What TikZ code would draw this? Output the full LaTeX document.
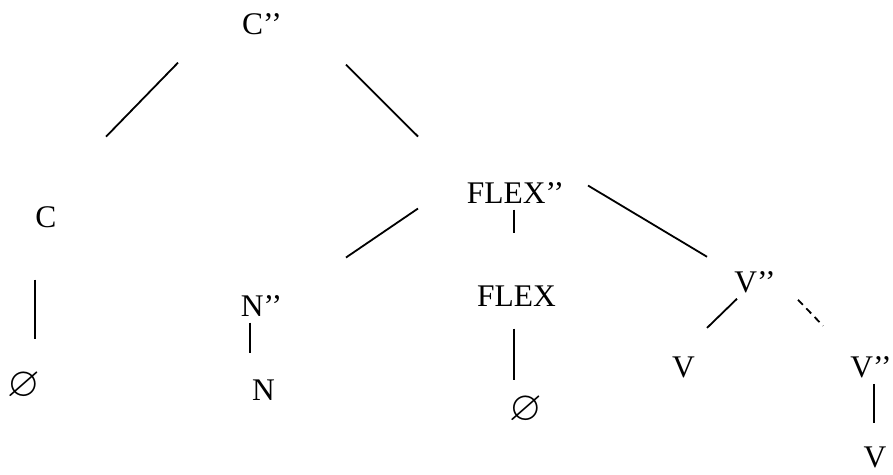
\documentclass[tikz,border=0pt]{standalone}
\usepackage{amssymb}
\usepackage{fontspec}
\setmainfont{Liberation Serif}
\usetikzlibrary{calc}

\tikzset{
  cat/.style={inner sep=0pt, outer sep=0pt, anchor=base,
    font=\fontsize{31.5bp}{36bp}\selectfont},
  nul/.style={inner sep=0pt, outer sep=0pt, anchor=center,
    font=\fontsize{42bp}{46bp}\selectfont},
  branch/.style={line width=1.8bp},
  gapped/.style={branch, dash pattern=on 7bp off 5bp}
}

\begin{document}
\begin{tikzpicture}[x=1bp, y=-1bp]
  \useasboundingbox (0,0) rectangle (893,475);
  %%
  % Nodes: top of the tree
  \node[cat] (cbar2) at (262,35) {C’’};
  \node[cat] (c) at (46,228) {C};
  \node[nul] (cnull) at (24,386) {$\varnothing$};
  % Nodes: FLEX'' and below
  \node[cat] (flexbar2) at (515.5,204) {FLEX’’};
  \node[cat] (nbar2) at (261.5,317) {N’’};
  \node[cat] (n) at (263.5,400) {N};
  \node[cat] (flex) at (516.5,307) {FLEX};
  \node[nul] (flexnull) at (526,410) {$\varnothing$};
  % Nodes: V'' subtree
  \node[cat] (vbar2) at (755,293) {V’’};
  \node[cat] (v) at (683.5,378) {V};
  \node[cat] (vbar2b) at (871,378) {V’’};
  \node[cat] (vb) at (875,467) {V};
  %
  % Edges
  \draw[branch] ($(cbar2)+(-84,38)$) -- ($(c)+(60,-81)$);
  \draw[branch] ($(cbar2)+(84,40)$) -- ($(flexbar2)+(-97.5,-57)$);
  \draw[branch] ($(c)+(-11,62)$) -- ($(cnull)+(11,-47)$);
  \draw[branch] ($(flexbar2)+(-97.5,15)$) -- ($(nbar2)+(84.5,-49)$);
  \draw[branch] ($(nbar2)+(-11.5,16)$) -- ($(n)+(-13.5,-37)$);
  \draw[branch] ($(flexbar2)+(-1.5,16)$) -- ($(flex)+(-2.5,-64)$);
  \draw[branch] ($(flex)+(-2.5,32)$) -- ($(flexnull)+(-12,-30)$);
  \draw[branch] ($(flexbar2)+(72.5,-8)$) -- ($(vbar2)+(-48,-26)$);
  \draw[branch] ($(vbar2)+(-18,16)$) -- ($(v)+(23.5,-40)$);
  \draw[gapped] ($(vbar2)+(43,17)$) -- ($(vbar2b)+(-48,-42)$);
  \draw[branch] ($(vbar2b)+(3,16)$) -- ($(vb)+(-1,-34)$);
\end{tikzpicture}
\end{document}
